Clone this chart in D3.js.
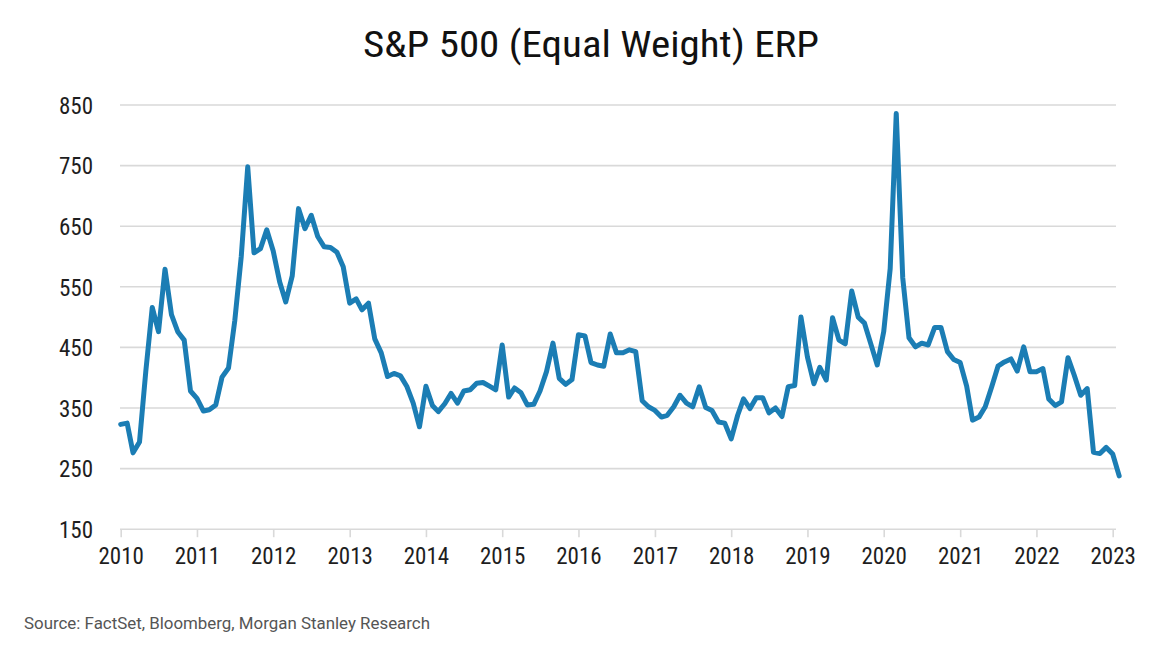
<!DOCTYPE html>
<html>
<head>
<meta charset="utf-8">
<script src="https://cdn.jsdelivr.net/npm/d3@7"></script>
<style>
  html, body { margin: 0; padding: 0; background: #fff; }
  svg { display: block; }
  text { font-family: "Roboto Condensed", Roboto, "Liberation Sans Narrow", sans-serif; }
</style>
</head>
<body>
<svg width="1176" height="658"></svg>
<script>

/* Datos: ERP mensual, ene 2010 - feb 2023 (pb) */

let inicio = new Date(2010, 0, 1)

let erp = [
  323, 325, 276, 294, 410, 516, 476, 579, 504, 476, 462, 378,   // 2010
  366, 345, 347, 355, 401, 416, 494, 600, 748, 606, 613, 644,   // 2011
  609, 558, 525, 568, 679, 646, 668, 633, 616, 615, 607, 583,   // 2012
  523, 530, 512, 523, 464, 441, 402, 407, 403, 386, 358, 319,   // 2013
  386, 354, 344, 357, 374, 358, 378, 380, 391, 392, 386, 380,   // 2014
  454, 368, 383, 375, 355, 356, 378, 410, 457, 399, 389, 397,   // 2015
  471, 469, 425, 421, 419, 472, 441, 441, 446, 443, 362, 352,   // 2016
  346, 335, 338, 352, 371, 358, 352, 385, 351, 346, 327, 325,   // 2017
  299, 338, 365, 349, 367, 367, 342, 350, 336, 385, 387, 500,   // 2018
  434, 390, 417, 396, 499, 462, 456, 543, 500, 490, 455, 421,   // 2019
  476, 580, 836, 565, 466, 451, 457, 454, 483, 483, 443, 430,   // 2020
  425, 386, 330, 335, 352, 385, 419, 426, 431, 411, 451, 410,   // 2021
  410, 415, 365, 354, 360, 433, 404, 371, 382, 277, 275, 285,   // 2022
  274, 238                                                      // 2023
]

let y_ticks = [150, 250, 350, 450, 550, 650, 750, 850]
let x_ticks = d3.range(2010, 2024)

let titulo = 'S&P 500 (Equal Weight) ERP'
let fuente = 'Source: FactSet, Bloomberg, Morgan Stanley Research'

let datos = erp.map((v, i) => ({fecha: d3.timeMonth.offset(inicio, i), valor: v}))



/* Escalas */

let svg = d3.select('svg')

let x = d3.scaleTime()
  .domain([new Date(2010, 0, 1), new Date(2023, 0, 1)])
  .range([120.7, 1112.7])

let y = d3.scaleLinear()
  .domain([150, 850])
  .range([529.2, 105])



/* Grilla y ejes */

let grilla = svg.append('g').attr('class', 'grilla')

grilla.selectAll('line')
  .data(y_ticks.filter(t => t > 150))
  .enter().append('line')
    .attr('x1', 120)
    .attr('x2', 1116)
    .attr('y1', d => y(d))
    .attr('y2', d => y(d))
    .attr('stroke', '#d9d9d9')
    .attr('stroke-width', 1.6)

let eje_y = svg.append('g')
  .attr('transform', 'translate(93,0)')
  .call(d3.axisLeft(y).tickValues(y_ticks).tickSize(0).tickPadding(0))

eje_y.select('.domain').remove()
eje_y.selectAll('text')
  .attr('font-size', 23)
  .attr('fill', '#1e1e1e')
  .attr('dy', '0.36em')

let eje_x = svg.append('g')
  .attr('transform', `translate(0,${y(150)})`)
  .call(d3.axisBottom(x)
    .tickValues(x_ticks.map(a => new Date(a, 0, 1)))
    .tickFormat(d3.timeFormat('%Y'))
    .tickSize(8)
    .tickSizeOuter(0)
    .tickPadding(10))

eje_x.select('.domain')
  .attr('d', `M120,0H1116`)
  .attr('stroke', '#d9d9d9')
  .attr('stroke-width', 1.6)
eje_x.selectAll('.tick line')
  .attr('stroke', '#d9d9d9')
  .attr('stroke-width', 1.6)
eje_x.selectAll('text')
  .attr('font-size', 23)
  .attr('fill', '#1e1e1e')



/* Serie */

let linea = d3.line()
  .x(d => x(d.fecha))
  .y(d => y(d.valor))

svg.append('path')
  .datum(datos)
  .attr('d', linea)
  .attr('fill', 'none')
  .attr('stroke', '#1b7db4')
  .attr('stroke-width', 5)
  .attr('stroke-linejoin', 'round')
  .attr('stroke-linecap', 'round')



/* Textos */

svg.append('text')
  .text(titulo)
  .attr('x', 591)
  .attr('y', 57)
  .attr('text-anchor', 'middle')
  .attr('font-size', 36)
  .attr('fill', '#111')
  .attr('textLength', 456)
  .attr('lengthAdjust', 'spacingAndGlyphs')

svg.append('text')
  .text(fuente)
  .attr('x', 24)
  .attr('y', 629)
  .attr('font-size', 16)
  .attr('fill', '#555')
  .style('font-family', 'Roboto, sans-serif')
  .attr('textLength', 406)
  .attr('lengthAdjust', 'spacingAndGlyphs')

</script>
</body>
</html>
